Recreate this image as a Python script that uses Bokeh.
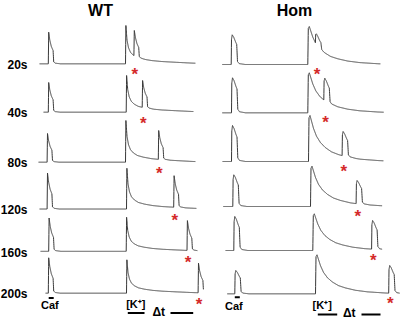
import numpy as np
from bokeh.plotting import figure
from bokeh.models import Range1d
from bokeh.core.properties import value
from bokeh.embed import file_html
from bokeh.resources import INLINE

# ---------------- data (times in s, amplitudes in arbitrary units) ----------------
row_labels = ["20s", "40s", "80s", "120s", "160s", "200s"]
genotypes = ["WT", "Hom"]

# WT recordings (time relative to the reference [K+] application)
wt_start = [-215, -205, -217.5, -215, -212.5, -200]
wt_end = [175, 170, 175, 177.5, 180, 195]
wt_caf_onset = [-193, -193, -196, -196, -192, -193]
wt_k_onset = [0, 1.75, 0, 2.5, 1.75, 2.5]
wt_test_after_k = [21, 40, 82, 118, 152, 179]
wt_caf_amp = [31.6, 29.7, 28.7, 36.0, 33.3, 35.4]
wt_k_amp = [38.3, 36.7, 41.7, 40.7, 34.0, 33.4]
wt_test_amp = [33.3, 31.7, 31.7, 33.3, 30.7, 30.0]

# Hom recordings
hom_start = [-214, -214, -213.25, -211.5, -205.75, -201.5]
hom_end = [181.75, 190, 189.25, 186, 186, 230]
hom_caf_onset = [-191.5, -190.75, -190.75, -187.5, -185, -182.5]
hom_k_onset = [0, 0, 1.75, 6.75, 12.5, 19.25]
hom_test_after_k = [19, 40, 84, 114, 147, 183]
hom_caf_amp = [29.7, 35.0, 36.0, 31.7, 34.0, 23.3]
hom_k_amp = [38.0, 40.0, 46.0, 40.3, 36.7, 39.0]
hom_test_amp = [30.7, 34.6, 30.0, 26.0, 30.0, 28.3]

# transient waveforms (time after onset in s, fraction of peak)
wt_release_t = [0, 1, 3.75, 7.5, 12, 13.5, 17.5, 30]
wt_release_f = [0, 1.0, 0.75, 0.55, 0.42, 0.06, 0.02, 0]
wt_k_t = [0, 1, 3.75, 7.5, 12.5, 20, 30, 45, 65, 90, 125, 162.5, 212.5]
wt_k_f = [0, 1.0, 0.62, 0.42, 0.30, 0.22, 0.16, 0.12, 0.085, 0.06, 0.04, 0.02, 0]

hom_release_t = [0, 0.75, 2.5, 6.25, 11.25, 13.75, 15.75, 20, 35]
hom_release_f = [0, 0.85, 1.0, 0.92, 0.75, 0.68, 0.10, 0.03, 0]
hom_k_t = [0, 1.25, 3.75, 7.5, 12.5, 20, 30, 42.5, 57.5, 75, 100, 130, 175, 225]
hom_k_f = [0, 0.95, 1.0, 0.88, 0.72, 0.55, 0.41, 0.30, 0.21, 0.15, 0.09, 0.05, 0.02, 0]

# ---------------- layout ----------------
W, H = 400, 318
wt_baseline = [63.3, 111.7, 161.7, 208.5, 250.8, 292.7]
hom_baseline = [64.0, 112.3, 161.0, 206.0, 250.0, 293.3]
FONT = value("Liberation Sans")
TRACE_COLOR = "#383838"
STAR_COLOR = "#d42a2a"

p = figure(width=W, height=H, x_range=Range1d(-312.5, 687.5), y_range=Range1d(H, 0),
           output_backend="svg", toolbar_location=None, min_border=0,
           x_axis_location=None, y_axis_location=None,
           outline_line_color=None, background_fill_color="white",
           border_fill_color="white")
p.extra_x_ranges = {"hom": Range1d(-768.25, 231.75)}
p.grid.visible = False


def build_trace(start, end, caf_on, k_on, test_on, a_caf, a_k, a_test, rel_t, rel_f, k_t, k_f):
    t = np.arange(start, end, 0.25)
    t = np.union1d(t, [caf_on, k_on, test_on])
    t = t[(t >= start) & (t <= end)]
    peak_shift = rel_t[int(np.argmax(rel_f))]
    k_under = a_k * np.interp(test_on + peak_shift - k_on, k_t, k_f, left=0, right=0)
    a_t = max(a_test - k_under, 0)
    total = (a_caf * np.interp(t - caf_on, rel_t, rel_f, left=0, right=0)
             + a_k * np.interp(t - k_on, k_t, k_f, left=0, right=0)
             + a_t * np.interp(t - test_on, rel_t, rel_f, left=0, right=0))
    return t, total


def draw_column(rname, baseline, start, end, caf_on, k_on, test_after, a_caf, a_k, a_test,
                rel_t, rel_f, k_t, k_f, star_dx, star_dy):
    sx, sy = [], []
    for i in range(len(row_labels)):
        test_on = k_on[i] + test_after[i]
        t, total = build_trace(start[i], end[i], caf_on[i], k_on[i], test_on,
                               a_caf[i], a_k[i], a_test[i], rel_t, rel_f, k_t, k_f)
        p.line(t, baseline[i] - total, line_color=TRACE_COLOR, line_width=1,
               x_range_name=rname)
        sx.append(test_on + star_dx)
        sy.append(baseline[i] + star_dy)
    p.text(x=sx, y=sy, text=["*"] * len(sx), text_color=STAR_COLOR,
           text_font=FONT, text_font_style="bold", text_font_size="17px",
           text_align="center", text_baseline="alphabetic", x_range_name=rname)


def label(rname, xs, ys, texts, size, align="center"):
    p.text(x=xs, y=ys, text=texts, text_font=FONT, text_font_style="bold",
           text_font_size=size, text_align=align, text_baseline="middle",
           text_color="black", x_range_name=rname)


# ---------------- WT ----------------
draw_column("default", wt_baseline, wt_start, wt_end, wt_caf_onset, wt_k_onset, wt_test_after_k,
            wt_caf_amp, wt_k_amp, wt_test_amp, wt_release_t, wt_release_f, wt_k_t, wt_k_f,
            2.5, 11)
label("default", [-62.5], [9.5], [genotypes[0]], "16px")
label("default", [-245] * 6, [b + 1.2 for b in wt_baseline], row_labels, "12px", "right")
label("default", [-189, 25.75], [304, 303.5], ["Caf", "[K⁺]"], "11px")
label("default", [83.25], [311.5], ["Δt"], "12px")
p.segment(x0=[-192, 5.75, 112.5], y0=[297.5, 312.5, 312.5],
          x1=[-179.5, 47.5, 169.25], y1=[297.5, 312.5, 312.5],
          line_color="black", line_width=2)

# ---------------- Hom ----------------
draw_column("hom", hom_baseline, hom_start, hom_end, hom_caf_onset, hom_k_onset, hom_test_after_k,
            hom_caf_amp, hom_k_amp, hom_test_amp, hom_release_t, hom_release_f, hom_k_t, hom_k_f,
            4.25, 9.5)
label("hom", [-33.25], [9.5], [genotypes[1]], "16px")
label("hom", [-185, 36], [305, 304], ["Caf", "[K⁺]"], "11px")
label("hom", [103.5], [312], ["Δt"], "12px")
p.segment(x0=[-182.5, 25, 134.25], y0=[296.7, 314, 314],
          x1=[-170, 73.5, 181.75], y1=[296.7, 314, 314],
          line_color="black", line_width=2, x_range_name="hom")

open("out.html", "w").write(file_html(p, INLINE))
